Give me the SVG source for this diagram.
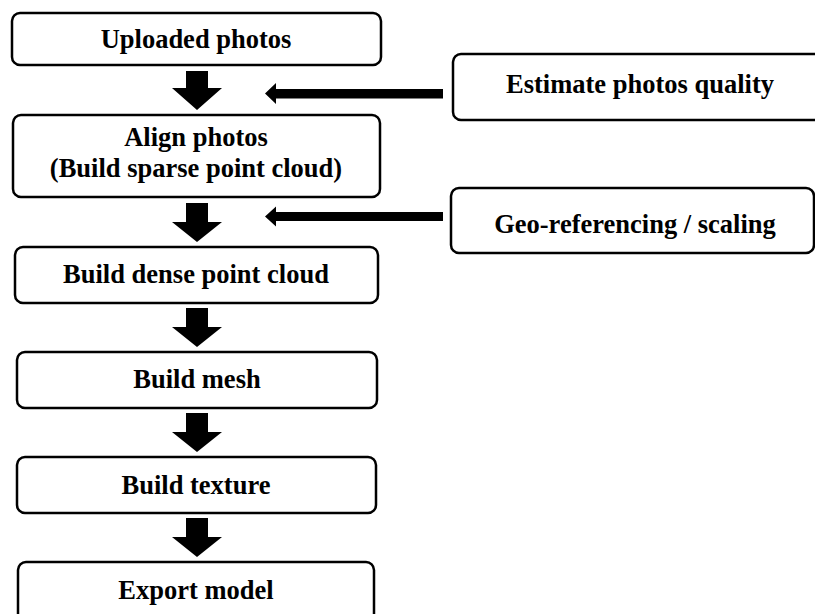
<svg xmlns="http://www.w3.org/2000/svg" width="815" height="614" viewBox="0 0 815 614">
  <style>
    .box { fill: #ffffff; stroke: #000000; stroke-width: 2.5; }
    .lbl { font-family: "Liberation Serif", "Times New Roman", serif; font-weight: bold; font-size: 26.5px; fill: #000000; text-anchor: middle; }
    .arrow { fill: #000000; stroke: none; }
  </style>
  <rect x="0" y="0" width="815" height="614" fill="#ffffff"/>

  <!-- main pipeline -->
  <g id="uploaded">
    <rect class="box" x="12" y="13" width="369" height="52" rx="8"/>
    <text class="lbl" x="196" y="48">Uploaded photos</text>
  </g>
  <g id="align">
    <rect class="box" x="13" y="115" width="367" height="82" rx="8"/>
    <text class="lbl" x="196" y="146">Align photos</text>
    <text class="lbl" x="196" y="177">(Build sparse point cloud)</text>
  </g>
  <g id="dense">
    <rect class="box" x="15" y="247" width="363" height="56" rx="8"/>
    <text class="lbl" x="196" y="283">Build dense point cloud</text>
  </g>
  <g id="mesh">
    <rect class="box" x="17" y="352" width="360" height="56" rx="8"/>
    <text class="lbl" x="197" y="388">Build mesh</text>
  </g>
  <g id="texture">
    <rect class="box" x="17" y="457" width="359" height="56" rx="8"/>
    <text class="lbl" x="196" y="494">Build texture</text>
  </g>
  <g id="export">
    <rect class="box" x="18" y="562" width="356" height="70" rx="8"/>
    <text class="lbl" x="196" y="599">Export model</text>
  </g>

  <!-- side inputs -->
  <g id="quality">
    <rect class="box" x="453" y="54" width="380" height="66" rx="8"/>
    <text class="lbl" x="640" y="93">Estimate photos quality</text>
  </g>
  <g id="georef">
    <rect class="box" x="451" y="188" width="363" height="65" rx="8"/>
    <text class="lbl" x="635" y="233">Geo-referencing / scaling</text>
  </g>

  <!-- connectors -->
  <g id="connectors">
    <polygon class="arrow" points="186,71 208,71 208,88 222,88 197,110 172,88 186,88"/>
    <polygon class="arrow" points="186,203 208,203 208,222 222,222 197,242 172,222 186,222"/>
    <polygon class="arrow" points="186,308 208,308 208,327 222,327 197,347 172,327 186,327"/>
    <polygon class="arrow" points="186,413 208,413 208,432 222,432 197,452 172,432 186,432"/>
    <polygon class="arrow" points="186,518 208,518 208,537 222,537 197,557 172,537 186,537"/>
    <polygon class="arrow" points="443,89 443,98.5 276,98.5 276,104 265,93.5 276,83 276,89"/>
    <polygon class="arrow" points="443,212 443,221 276,221 276,226.5 265,216.5 276,206.5 276,212"/>
  </g>
</svg>
